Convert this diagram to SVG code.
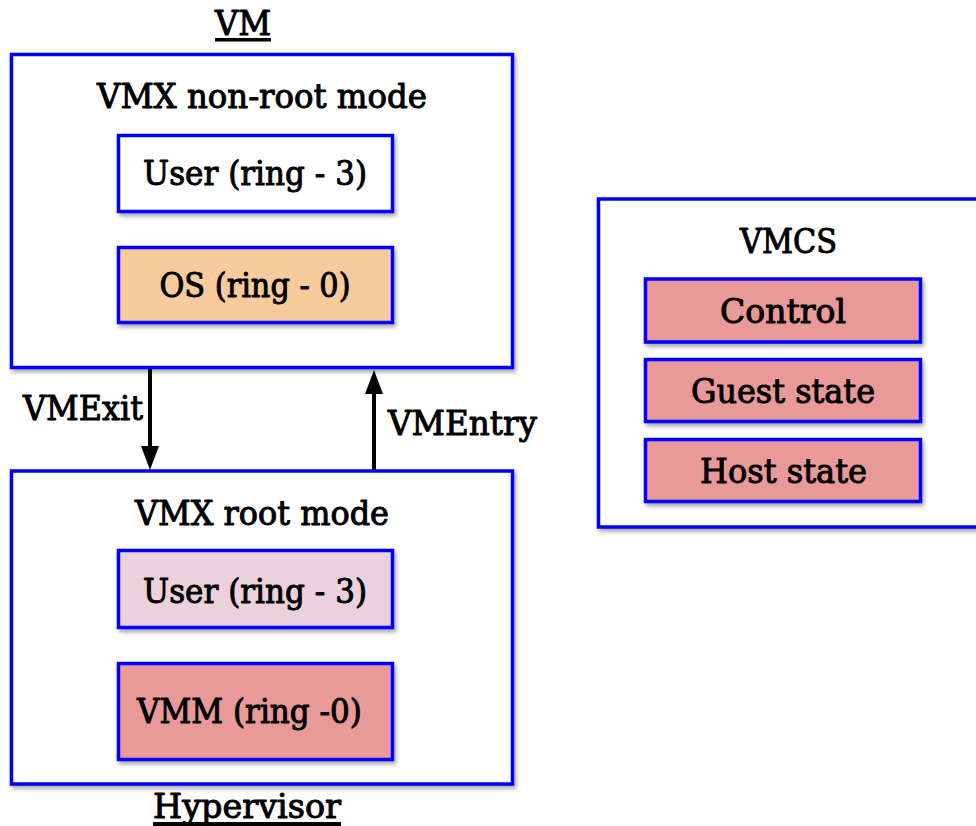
<svg xmlns="http://www.w3.org/2000/svg" width="976" height="826" viewBox="0 0 976 826">
  <defs>
    <filter id="shadow" x="-10%" y="-10%" width="130%" height="140%">
      <feDropShadow dx="2" dy="3" stdDeviation="2" flood-color="#000" flood-opacity="0.35"/>
    </filter>
    <marker id="arrowhead" viewBox="0 0 24 18" refX="4" refY="9" markerWidth="24" markerHeight="18" markerUnits="userSpaceOnUse" orient="auto">
      <path d="M0,0 L24,9 L0,18 z" fill="#000"/>
    </marker>
  </defs>
  <style>
    .frame { fill: #ffffff; stroke: #0000ff; stroke-width: 3.5; filter: url(#shadow); }
    .box { stroke: #0000ff; stroke-width: 3.5; filter: url(#shadow); }
    .white { fill: #ffffff; }
    .peach { fill: #f9cb9c; }
    .lilac { fill: #ead1dc; }
    .salmon { fill: #ea9999; }
    .label, .plain { font-family: "DejaVu Serif", "Liberation Serif", serif; font-size: 33px; fill: #000; stroke: #000; stroke-width: 1; stroke-linejoin: round; }
    .label { text-anchor: middle; }
    .link { stroke: #000; stroke-width: 4; fill: none; marker-end: url(#arrowhead); }
  </style>
  <rect width="976" height="826" fill="#ffffff"/>

  <!-- Guest VM -->
  <g id="vm">
    <text class="label" x="243" y="35" textLength="56" lengthAdjust="spacingAndGlyphs">VM</text>
    <rect x="215" y="38" width="56" height="3.5" fill="#000"/>
    <rect class="frame" x="11.5" y="54.5" width="501" height="313"/>
    <text class="label" x="262" y="108" textLength="330" lengthAdjust="spacingAndGlyphs">VMX non-root mode</text>
  </g>
  <g id="vm-user">
    <rect class="box white" x="118.5" y="135.5" width="274" height="76"/>
    <text class="label" x="255" y="185" textLength="224" lengthAdjust="spacingAndGlyphs">User (ring - 3)</text>
  </g>
  <g id="vm-os">
    <rect class="box peach" x="118.5" y="247.5" width="274" height="75"/>
    <text class="label" x="255" y="297" textLength="191" lengthAdjust="spacingAndGlyphs">OS (ring - 0)</text>
  </g>

  <!-- Hypervisor -->
  <g id="hypervisor">
    <rect class="frame" x="11.5" y="471" width="501" height="313"/>
    <text class="label" x="262" y="525" textLength="254" lengthAdjust="spacingAndGlyphs">VMX root mode</text>
    <text class="label" x="247" y="818" textLength="188" lengthAdjust="spacingAndGlyphs">Hypervisor</text>
    <rect x="153" y="822" width="188" height="4" fill="#000"/>
  </g>
  <g id="host-user">
    <rect class="box lilac" x="118.5" y="550.5" width="274" height="77"/>
    <text class="label" x="255" y="603" textLength="224" lengthAdjust="spacingAndGlyphs">User (ring - 3)</text>
  </g>
  <g id="vmm">
    <rect class="box salmon" x="118.5" y="663.5" width="274" height="96"/>
    <text class="label" x="249.5" y="723" textLength="225" lengthAdjust="spacingAndGlyphs">VMM (ring -0)</text>
  </g>

  <!-- VMCS -->
  <g id="vmcs">
    <rect class="frame" x="598.5" y="199" width="400" height="328"/>
    <text class="label" x="788.5" y="253" textLength="97" lengthAdjust="spacingAndGlyphs">VMCS</text>
  </g>
  <g id="vmcs-control">
    <rect class="box salmon" x="645.5" y="279" width="275" height="63"/>
    <text class="label" x="783" y="323" textLength="126" lengthAdjust="spacingAndGlyphs">Control</text>
  </g>
  <g id="vmcs-guest">
    <rect class="box salmon" x="645.5" y="359.5" width="275" height="62"/>
    <text class="label" x="783" y="403" textLength="184" lengthAdjust="spacingAndGlyphs">Guest state</text>
  </g>
  <g id="vmcs-host">
    <rect class="box salmon" x="645.5" y="439.5" width="275" height="62"/>
    <text class="label" x="783.5" y="483" textLength="167" lengthAdjust="spacingAndGlyphs">Host state</text>
  </g>

  <!-- Transitions between modes -->
  <g id="connectors">
    <line class="link" x1="150" y1="369" x2="150" y2="450"/>
    <text class="plain" x="23" y="420" textLength="120" lengthAdjust="spacingAndGlyphs">VMExit</text>
    <line class="link" x1="374" y1="470" x2="374" y2="390"/>
    <text class="plain" x="388" y="435" textLength="149" lengthAdjust="spacingAndGlyphs">VMEntry</text>
  </g>
</svg>
